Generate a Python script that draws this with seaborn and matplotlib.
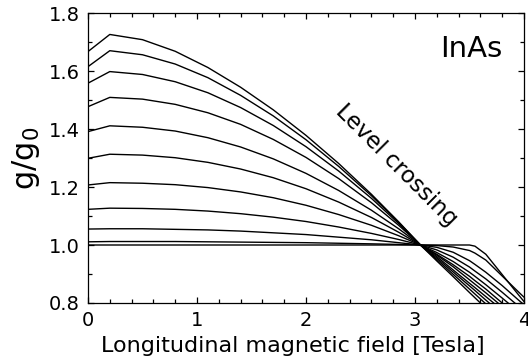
import matplotlib
matplotlib.use("Agg")
import matplotlib.pyplot as plt
import seaborn as sns
import pandas as pd
from matplotlib.ticker import MultipleLocator

# Longitudinal magnetic field [Tesla]
field = [0, 0.2, 0.5, 0.8, 1.1, 1.4, 1.7, 2.0, 2.3, 2.6, 2.85, 3.05,
         3.2, 3.35, 3.5, 3.55, 3.65, 3.8, 3.95, 4.0]

# g/g0 curves (one per level)
g01 = [1.667, 1.726, 1.708, 1.668, 1.612, 1.544, 1.466, 1.378, 1.281, 1.175, 1.080, 1.0,
       0.945, 0.891, 0.836, 0.818, 0.782, 0.727, 0.672, 0.654]
g02 = [1.615, 1.670, 1.656, 1.624, 1.577, 1.516, 1.445, 1.363, 1.271, 1.170, 1.078, 1.0,
       0.950, 0.899, 0.848, 0.831, 0.797, 0.746, 0.695, 0.678]
g03 = [1.558, 1.598, 1.588, 1.563, 1.525, 1.474, 1.412, 1.339, 1.255, 1.161, 1.074, 1.0,
       0.955, 0.907, 0.859, 0.843, 0.810, 0.762, 0.714, 0.698]
g04 = [1.477, 1.509, 1.503, 1.485, 1.456, 1.416, 1.364, 1.302, 1.229, 1.146, 1.068, 1.0,
       0.960, 0.914, 0.868, 0.853, 0.822, 0.776, 0.730, 0.715]
g05 = [1.391, 1.411, 1.406, 1.393, 1.370, 1.338, 1.297, 1.247, 1.188, 1.120, 1.056, 1.0,
       0.965, 0.925, 0.880, 0.865, 0.835, 0.788, 0.740, 0.725]
g06 = [1.299, 1.313, 1.310, 1.301, 1.285, 1.262, 1.232, 1.194, 1.148, 1.095, 1.044, 1.0,
       0.968, 0.932, 0.892, 0.877, 0.848, 0.800, 0.752, 0.736]
g07 = [1.207, 1.215, 1.213, 1.208, 1.198, 1.183, 1.163, 1.137, 1.105, 1.068, 1.032, 1.0,
       0.974, 0.943, 0.906, 0.892, 0.863, 0.817, 0.770, 0.754]
g08 = [1.123, 1.127, 1.126, 1.123, 1.117, 1.108, 1.096, 1.081, 1.062, 1.040, 1.019, 1.0,
       0.983, 0.958, 0.924, 0.910, 0.883, 0.837, 0.789, 0.773]
g09 = [1.055, 1.056, 1.056, 1.054, 1.052, 1.048, 1.042, 1.036, 1.027, 1.018, 1.008, 1.0,
       0.992, 0.975, 0.946, 0.933, 0.906, 0.860, 0.810, 0.794]
g10 = [1.011, 1.012, 1.012, 1.012, 1.011, 1.010, 1.009, 1.008, 1.006, 1.004, 1.002, 1.0,
       0.998, 0.993, 0.981, 0.972, 0.948, 0.893, 0.838, 0.820]
g11 = [1.0, 1.0, 1.0, 1.0, 1.0, 1.0, 1.0, 1.0, 1.0, 1.0, 1.0, 1.0,
       1.0, 1.0, 1.0, 0.996, 0.968, 0.898, 0.828, 0.805]

curves = [g01, g02, g03, g04, g05, g06, g07, g08, g09, g10, g11]

x_ticks = [0, 1, 2, 3, 4]
x_tick_labels = ["0", "1", "2", "3", "4"]
y_ticks = [0.8, 1.0, 1.2, 1.4, 1.6, 1.8]
y_tick_labels = ["0.8", "1.0", "1.2", "1.4", "1.6", "1.8"]

rows = []
for i, g in enumerate(curves):
    for xv, yv in zip(field, g):
        rows.append({"B": xv, "g": yv, "curve": f"c{i}"})
df = pd.DataFrame(rows)

sns.set_theme(style="ticks")
plt.rcParams["font.family"] = ["DejaVu Sans"]
plt.rcParams["mathtext.fontset"] = "dejavusans"

fig = plt.figure(figsize=(5.28, 3.64), dpi=100)
ax = fig.add_axes([88 / 528, 1 - 303 / 364, 436 / 528, 290 / 364])

sns.lineplot(data=df, x="B", y="g", hue="curve",
             palette=["black"] * len(curves), legend=False, ax=ax,
             linewidth=1.0, sort=False, estimator=None)

ax.set_xlim(0, 4)
ax.set_ylim(0.8, 1.8)
ax.set_xticks(x_ticks)
ax.set_xticklabels(x_tick_labels)
ax.set_yticks(y_ticks)
ax.set_yticklabels(y_tick_labels)
ax.xaxis.set_minor_locator(MultipleLocator(0.2))
ax.yaxis.set_minor_locator(MultipleLocator(0.1))
ax.tick_params(which="both", direction="in", top=True, right=True,
               color="black", width=0.9)
ax.tick_params(which="major", length=4.5, labelsize=14, pad=6, labelcolor="black")
ax.tick_params(which="minor", length=2.8)
for s in ax.spines.values():
    s.set_linewidth(0.9)
    s.set_color("black")

ax.set_xlabel("Longitudinal magnetic field [Tesla]", fontsize=16, labelpad=4,
              color="black", x=0.47)
ax.set_ylabel("g/g$_0$", fontsize=22, labelpad=5, color="black")

ax.text(0.95, 0.925, "InAs", transform=ax.transAxes, ha="right", va="top",
        fontsize=21, color="black")
ax.text(2.83, 1.276, "Level crossing", rotation=-45, rotation_mode="anchor",
        ha="center", va="center", fontsize=16.5, color="black")

fig.savefig("out.png", dpi=100)
